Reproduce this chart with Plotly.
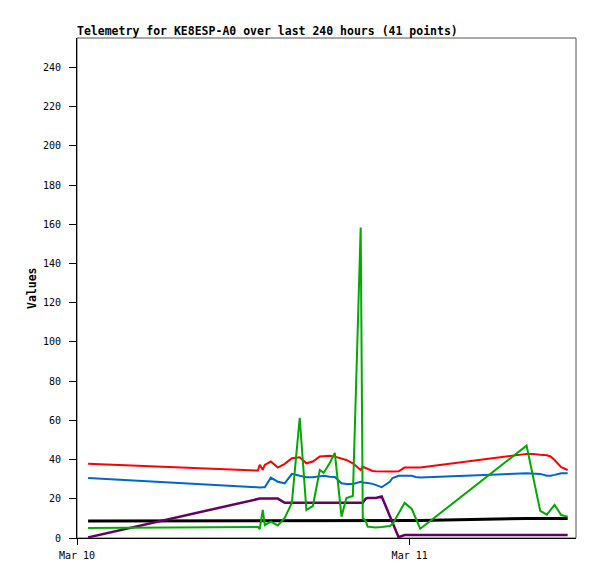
import plotly.graph_objects as go

# sample times (Mar 10 / Mar 11)
times = [
    "2024-03-10 00:48", "2024-03-10 13:03", "2024-03-10 13:11", "2024-03-10 13:24",
    "2024-03-10 13:33", "2024-03-10 13:59", "2024-03-10 14:29", "2024-03-10 14:59",
    "2024-03-10 15:30", "2024-03-10 16:04", "2024-03-10 16:33", "2024-03-10 17:01",
    "2024-03-10 17:31", "2024-03-10 17:48", "2024-03-10 18:14", "2024-03-10 18:36",
    "2024-03-10 19:05", "2024-03-10 19:26", "2024-03-10 19:54", "2024-03-10 20:28",
    "2024-03-10 20:37", "2024-03-10 20:50", "2024-03-10 20:58", "2024-03-10 21:20",
    "2024-03-10 21:33", "2024-03-10 21:59", "2024-03-10 22:34", "2024-03-10 22:46",
    "2024-03-10 23:12", "2024-03-10 23:38", "2024-03-11 00:09", "2024-03-11 00:26",
    "2024-03-11 00:46", "2024-03-11 08:26", "2024-03-11 08:52", "2024-03-11 09:25",
    "2024-03-11 09:54", "2024-03-11 10:10", "2024-03-11 10:27", "2024-03-11 10:56",
    "2024-03-11 11:24",
]

ch_red = [37.9, 34.4, 37.3, 34.7, 37.3, 39.0, 35.9, 37.8, 40.7, 41.2, 38.1, 39.0,
          41.6, 41.6, 41.9, 41.5, 40.6, 39.8, 38.1, 34.7, 36.3, 35.6, 35.2, 34.2,
          34.0, 33.9, 33.9, 33.9, 34.0, 35.9, 35.9, 36.0, 36.0, 42.9, 42.9, 42.4,
          42.2, 41.6, 39.8, 36.1, 34.7]
ch_blue = [30.6, 25.5, 25.8, 25.9, 25.9, 30.8, 28.7, 27.9, 32.7, 31.7, 31.0, 31.0,
           31.4, 31.7, 31.3, 31.1, 27.9, 27.6, 27.6, 28.7, 28.3, 28.3, 28.1, 27.6,
           27.1, 25.9, 28.7, 30.6, 31.7, 31.7, 31.7, 31.1, 30.8, 33.0, 33.0, 32.7,
           31.8, 31.8, 32.2, 33.0, 33.0]
ch_purple = [0.3, 20.1, 20.1, 20.1, 20.1, 20.1, 20.1, 18.0, 18.0, 18.0, 18.0, 18.0,
             18.0, 18.0, 18.0, 18.0, 18.0, 18.0, 18.0, 18.0, 18.0, 20.1, 20.4, 20.4,
             20.4, 21.2, 11.3, 7.7, 0.4, 1.5, 1.5, 1.5, 1.5, 1.5, 1.5, 1.5,
             1.5, 1.5, 1.5, 1.5, 1.5]
ch_green = [5.1, 5.6, 4.6, 14.3, 6.6, 8.3, 6.4, 10.2, 17.9, 61.3, 14.3, 16.3,
            34.7, 33.2, 38.3, 43.4, 10.9, 20.4, 21.4, 158.3, 10.2, 8.7, 5.8, 5.4,
            5.4, 5.6, 6.1, 7.1, 12.8, 17.9, 14.8, 9.7, 4.7, 47.1, 32.6, 13.9,
            11.9, 14.3, 16.9, 11.7, 10.9]
ch_black = [8.7, 8.8, 8.8, 8.8, 8.8, 8.8, 8.8, 8.8, 8.8, 8.8, 8.8, 8.8,
            8.8, 8.8, 8.8, 8.8, 8.8, 8.8, 8.8, 8.8, 8.8, 8.8, 8.8, 8.8,
            8.8, 8.8, 8.8, 8.8, 8.8, 8.8, 8.9, 8.9, 8.9, 10.0, 10.0, 10.0,
            10.0, 10.0, 10.0, 10.0, 10.0]

x_tickvals = ["2024-03-10 00:00", "2024-03-11 00:00"]
x_ticktext = ["Mar 10", "Mar 11"]
y_ticks = list(range(0, 241, 20))

MONO = "DejaVu Sans Mono"

# page body has an 8px margin, so the figure is a bit smaller than the window
W, H = 589, 571

fig = go.Figure()
series = [
    (ch_black, "#000000", 3),
    (ch_red, "#ff0000", 2),
    (ch_blue, "#0066cc", 2),
    (ch_purple, "#660066", 2.5),
    (ch_green, "#00aa00", 2),
]
for vals, col, w in series:
    fig.add_trace(go.Scatter(x=times, y=vals, mode="lines",
                             line=dict(color=col, width=w), showlegend=False,
                             hoverinfo="skip"))

fig.update_layout(
    width=W, height=H,
    margin=dict(l=69, r=21, t=30, b=41),
    paper_bgcolor="white", plot_bgcolor="white",
    font=dict(family=MONO, size=10, color="black"),
    title=dict(text="<b>Telemetry for KE8ESP-A0 over last 240 hours (41 points)</b>",
               x=69 / W, xanchor="left", y=1 - 23 / H, yanchor="middle",
               font=dict(family=MONO, size=11.5, color="black")),
    xaxis=dict(type="date", range=["2024-03-10 00:00", "2024-03-11 12:00"],
               tickmode="array", tickvals=x_tickvals, ticktext=x_ticktext,
               showgrid=False, zeroline=False, showline=True, linecolor="black",
               linewidth=1, ticks="outside", ticklen=6, tickcolor="black",
               ticklabelstandoff=2),
    yaxis=dict(range=[0, 255], tickmode="array", tickvals=y_ticks,
               showgrid=False, zeroline=False, showline=True, linecolor="black",
               linewidth=1, ticks="outside", ticklen=7, tickcolor="black",
               ticklabelstandoff=6),
    shapes=[dict(type="rect", xref="paper", yref="paper", x0=0, x1=1, y0=0, y1=1,
                 line=dict(color="#555555", width=1), layer="below")],
    annotations=[dict(text="<b>Values</b>", textangle=-90, xref="paper", yref="paper",
                      x=(32 - 77) / 499, y=0.5, xanchor="center", yanchor="middle",
                      showarrow=False,
                      font=dict(family=MONO, size=11.5, color="black"))],
)

fig.write_html("out.html")
